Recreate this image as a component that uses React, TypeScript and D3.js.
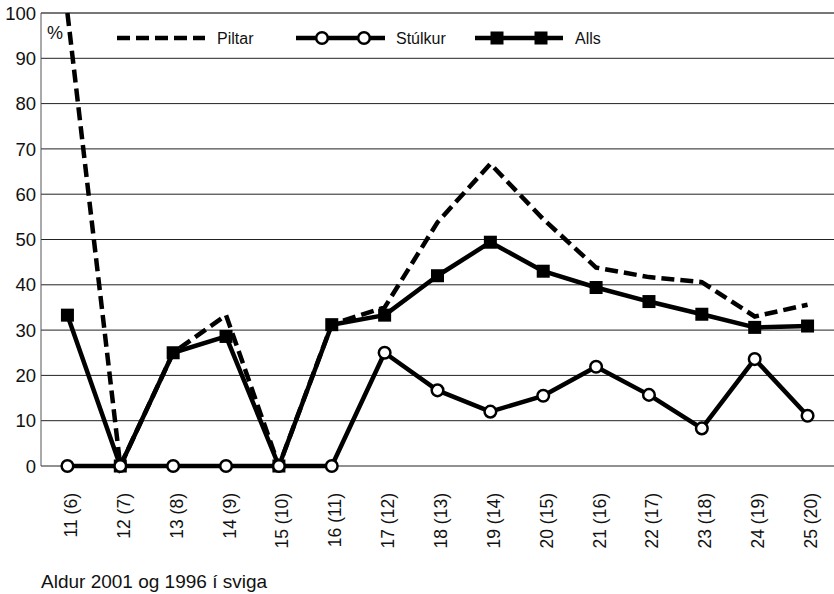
import React from "react";
import * as d3 from "d3";

const categories = ["11 (6)", "12 (7)", "13 (8)", "14 (9)", "15 (10)", "16 (11)", "17 (12)", "18 (13)", "19 (14)", "20 (15)", "21 (16)", "22 (17)", "23 (18)", "24 (19)", "25 (20)"];
const piltar = [100, 0, 25, 33.3, 0, 31.3, 35, 53.8, 66.7, 54.5, 43.8, 41.7, 40.6, 33.0, 35.6];
const stulkur = [0, 0, 0, 0, 0, 0, 25, 16.7, 12, 15.5, 21.9, 15.7, 8.3, 23.6, 11.1];
const alls = [33.3, 0, 25, 28.6, 0, 31.2, 33.3, 42, 49.4, 43, 39.4, 36.3, 33.5, 30.6, 30.9];
const yTicks = [0, 10, 20, 30, 40, 50, 60, 70, 80, 90, 100];

const W = 834, H = 594;
const left = 41, right = 834, top = 13, bottom = 466;
const FONT = "Arial, 'Liberation Sans', Helvetica, sans-serif";

export default function App() {
  const x = d3.scaleBand<string>().domain(categories).range([left, right]);
  const cx = (c: string) => (x(c) as number) + x.bandwidth() / 2;
  const y = d3.scaleLinear().domain([0, 100]).range([bottom, top]);
  const line = d3.line<number>().x((_, i) => cx(categories[i])).y((d) => y(d));

  return (
    <svg width={W} height={H} style={{ position: "absolute", left: 0, top: 0 }} fontFamily={FONT}>
      <rect x={0} y={0} width={W} height={H} fill="#fff" />
      {yTicks.map((t) =>
        t === 0 || t === 100 ? null : (
          <line key={t} x1={left} x2={right} y1={y(t)} y2={y(t)} stroke="#222" strokeWidth={1} />
        )
      )}
      <line x1={left} x2={right} y1={y(100)} y2={y(100)} stroke="#777" strokeWidth={2} />
      <line x1={left} x2={right} y1={y(0)} y2={y(0)} stroke="#222" strokeWidth={1} />
      <line x1={left} x2={left} y1={top} y2={bottom} stroke="#555" strokeWidth={1} />
      {yTicks.map((t) => (
        <text key={t} x={36} y={y(t)} dy="0.36em" textAnchor="end" fontSize={18.5} fill="#111">
          {t}
        </text>
      ))}
      <text x={47} y={39} fontSize={18} fill="#111">%</text>
      {categories.map((c) => (
        <text
          key={c}
          transform={`translate(${cx(c) + 9.5},${493}) rotate(-90)`}
          textAnchor="end"
          fontSize={17.5}
          fill="#111"
        >
          {c}
        </text>
      ))}
      <text x={41} y={588} fontSize={19} fill="#111">Aldur 2001 og 1996 í sviga</text>

      <path d={line(piltar) as string} fill="none" stroke="#000" strokeWidth={4.5} strokeDasharray="13,6" />
      <path d={line(alls) as string} fill="none" stroke="#000" strokeWidth={4.5} strokeLinejoin="round" />
      {alls.map((v, i) => (
        <rect key={i} x={cx(categories[i]) - 6.5} y={y(v) - 6.5} width={13} height={13} fill="#000" />
      ))}
      <path d={line(stulkur) as string} fill="none" stroke="#000" strokeWidth={4.5} strokeLinejoin="round" />
      {stulkur.map((v, i) => (
        <circle key={i} cx={cx(categories[i])} cy={y(v)} r={5.8} fill="#fff" stroke="#000" strokeWidth={2.5} />
      ))}

      <g>
        <line x1={117} x2={205} y1={38} y2={38} stroke="#000" strokeWidth={4.5} strokeDasharray="13,6" />
        <text x={217} y={38} dy="0.36em" fontSize={16} fill="#111">Piltar</text>
        <line x1={296} x2={385} y1={38} y2={38} stroke="#000" strokeWidth={4.5} />
        <circle cx={322} cy={38} r={5.8} fill="#fff" stroke="#000" strokeWidth={2.5} />
        <circle cx={364} cy={38} r={5.8} fill="#fff" stroke="#000" strokeWidth={2.5} />
        <text x={396} y={38} dy="0.36em" fontSize={16} fill="#111">Stúlkur</text>
        <line x1={475} x2={563} y1={38} y2={38} stroke="#000" strokeWidth={4.5} />
        <rect x={497 - 6.5} y={38 - 6.5} width={13} height={13} fill="#000" />
        <rect x={541 - 6.5} y={38 - 6.5} width={13} height={13} fill="#000" />
        <text x={575} y={38} dy="0.36em" fontSize={16} fill="#111">Alls</text>
      </g>
    </svg>
  );
}
